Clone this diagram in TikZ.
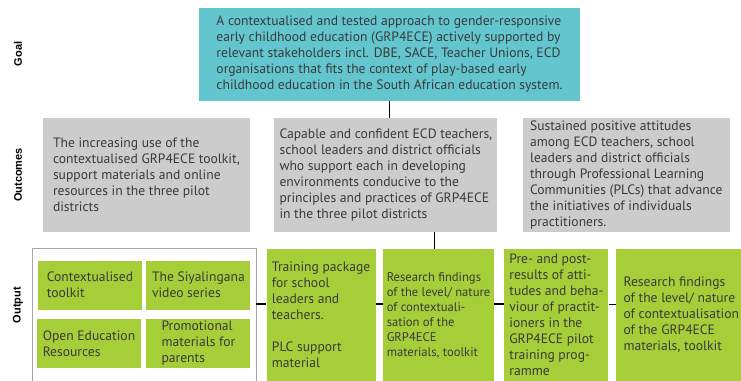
\documentclass[tikz,border=0pt]{standalone}
\usepackage{fontspec}
\setmainfont{PT Sans}
\newfontfamily\rowfont{Liberation Sans}
\usetikzlibrary{positioning}
\definecolor{goalteal}{HTML}{63C6CF}
\definecolor{outgray}{HTML}{CCCCCC}
\definecolor{lime}{HTML}{A6CE39}
\definecolor{ink}{HTML}{3A3A3A}
\tikzset{
    txt/.style={
        align=left,
        text=ink,
        font=\fontsize{13.6}{16}\selectfont,
        inner xsep=1pt,
        inner ysep=0pt
    },
    goalbox/.style={
        txt,
        fill=goalteal,
        minimum width=381pt,
        minimum height=93pt
    },
    outcome/.style={
        txt,
        fill=outgray,
        minimum height=114pt
    },
    product/.style={
        txt,
        fill=lime,
        minimum height=132pt
    },
    item/.style={
        txt,
        fill=lime,
        minimum width=104pt,
        minimum height=49pt
    },
    rowlabel/.style={
        rotate=90,
        font=\rowfont\bfseries\fontsize{11}{13}\selectfont
    },
    link/.style={line width=1.6pt}
}

\begin{document}
\begin{tikzpicture}[x=1pt, y=1pt, node distance=24pt]
    \useasboundingbox (0,0) rectangle (741,-380);
    \node[rowlabel] (lgoal) at (18,-54) {Goal};
    \node[rowlabel] (lout) at (18,-175) {Outcomes};
    \node[rowlabel] (lput) at (18,-305) {Output};

    \node[goalbox] (goal) at (389.5,-54) {A contextualised and tested approach to gender-responsive\\early childhood education (GRP4ECE) actively supported by\\relevant stakeholders incl. DBE, SACE, Teacher Unions, ECD\\organisations that fits the context of play-based early\\childhood education in the South African education system.};

    \node[outcome, minimum width=207pt] (o1) at (146.5,-175) {The increasing use of the\\contextualised GRP4ECE toolkit,\\support materials and online\\resources in the three pilot\\districts};
    \node[outcome, minimum width=223pt, right=of o1] (o2) {Capable and confident ECD teachers,\\school leaders and district officials\\who support each in developing\\environments conducive to the\\principles and practices of GRP4ECE\\in the three pilot districts};
    \node[outcome, minimum width=207pt, right=25pt of o2] (o3) {Sustained positive attitudes\\among ECD teachers, school\\leaders and district officials\\through Professional Learning\\Communities (PLCs) that advance\\the initiatives of individuals\\practitioners.};

    \node[draw=gray!70, line width=0.8pt, minimum width=224pt, minimum height=133pt] (outbox) at (144,-315) {};
    \node[item] (c1) at (90,-285) {Contextualised\\toolkit};
    \node[item, right=4pt of c1] (c2) {The Siyalingana\\video series};
    \node[item, below=9pt of c1, xshift=-1pt] (c3) {Open Education\\Resources};
    \node[item, below=9pt of c2] (c4) {Promotional\\materials for\\parents};

    \node[product, minimum width=109pt, right=10pt of outbox] (train) {Training package\\for school\\leaders and\\teachers.\\[16pt]PLC support\\material};
    \node[product, minimum width=111pt, font=\fontsize{12.6}{15}\selectfont, right=7pt of train] (find) {Research findings\\of the level/ nature\\of contextuali-\\sation of the\\GRP4ECE\\materials, toolkit};
    \node[product, minimum width=104pt, right=10pt of find] (prepost) {Pre- and post-\\results of atti-\\tudes and beha-\\viour of practit-\\ioners in the\\GRP4ECE pilot\\training prog-\\ramme};
    \node[product, minimum width=131pt, right=7pt of prepost] (find2) {Research findings\\of the level/ nature\\of contextualisation\\of the GRP4ECE\\materials, toolkit};

    \coordinate (lvl) at (0,-304);
    \draw[link] (goal.south) -- (goal.south |- o2.north);
    \draw[link] ([xshift=-4pt]find.north) -- ([xshift=-4pt]find.north |- o2.south);
    \draw[link] (outbox.east |- lvl) -- (train.west |- lvl);
    \draw[link] (train.east |- lvl) -- (find.west |- lvl);
    \draw[link] (find.east |- lvl) -- (prepost.west |- lvl);
    \draw[line width=0.8pt] (prepost.east |- lvl) -- (find2.west |- lvl);
\end{tikzpicture}
\end{document}
